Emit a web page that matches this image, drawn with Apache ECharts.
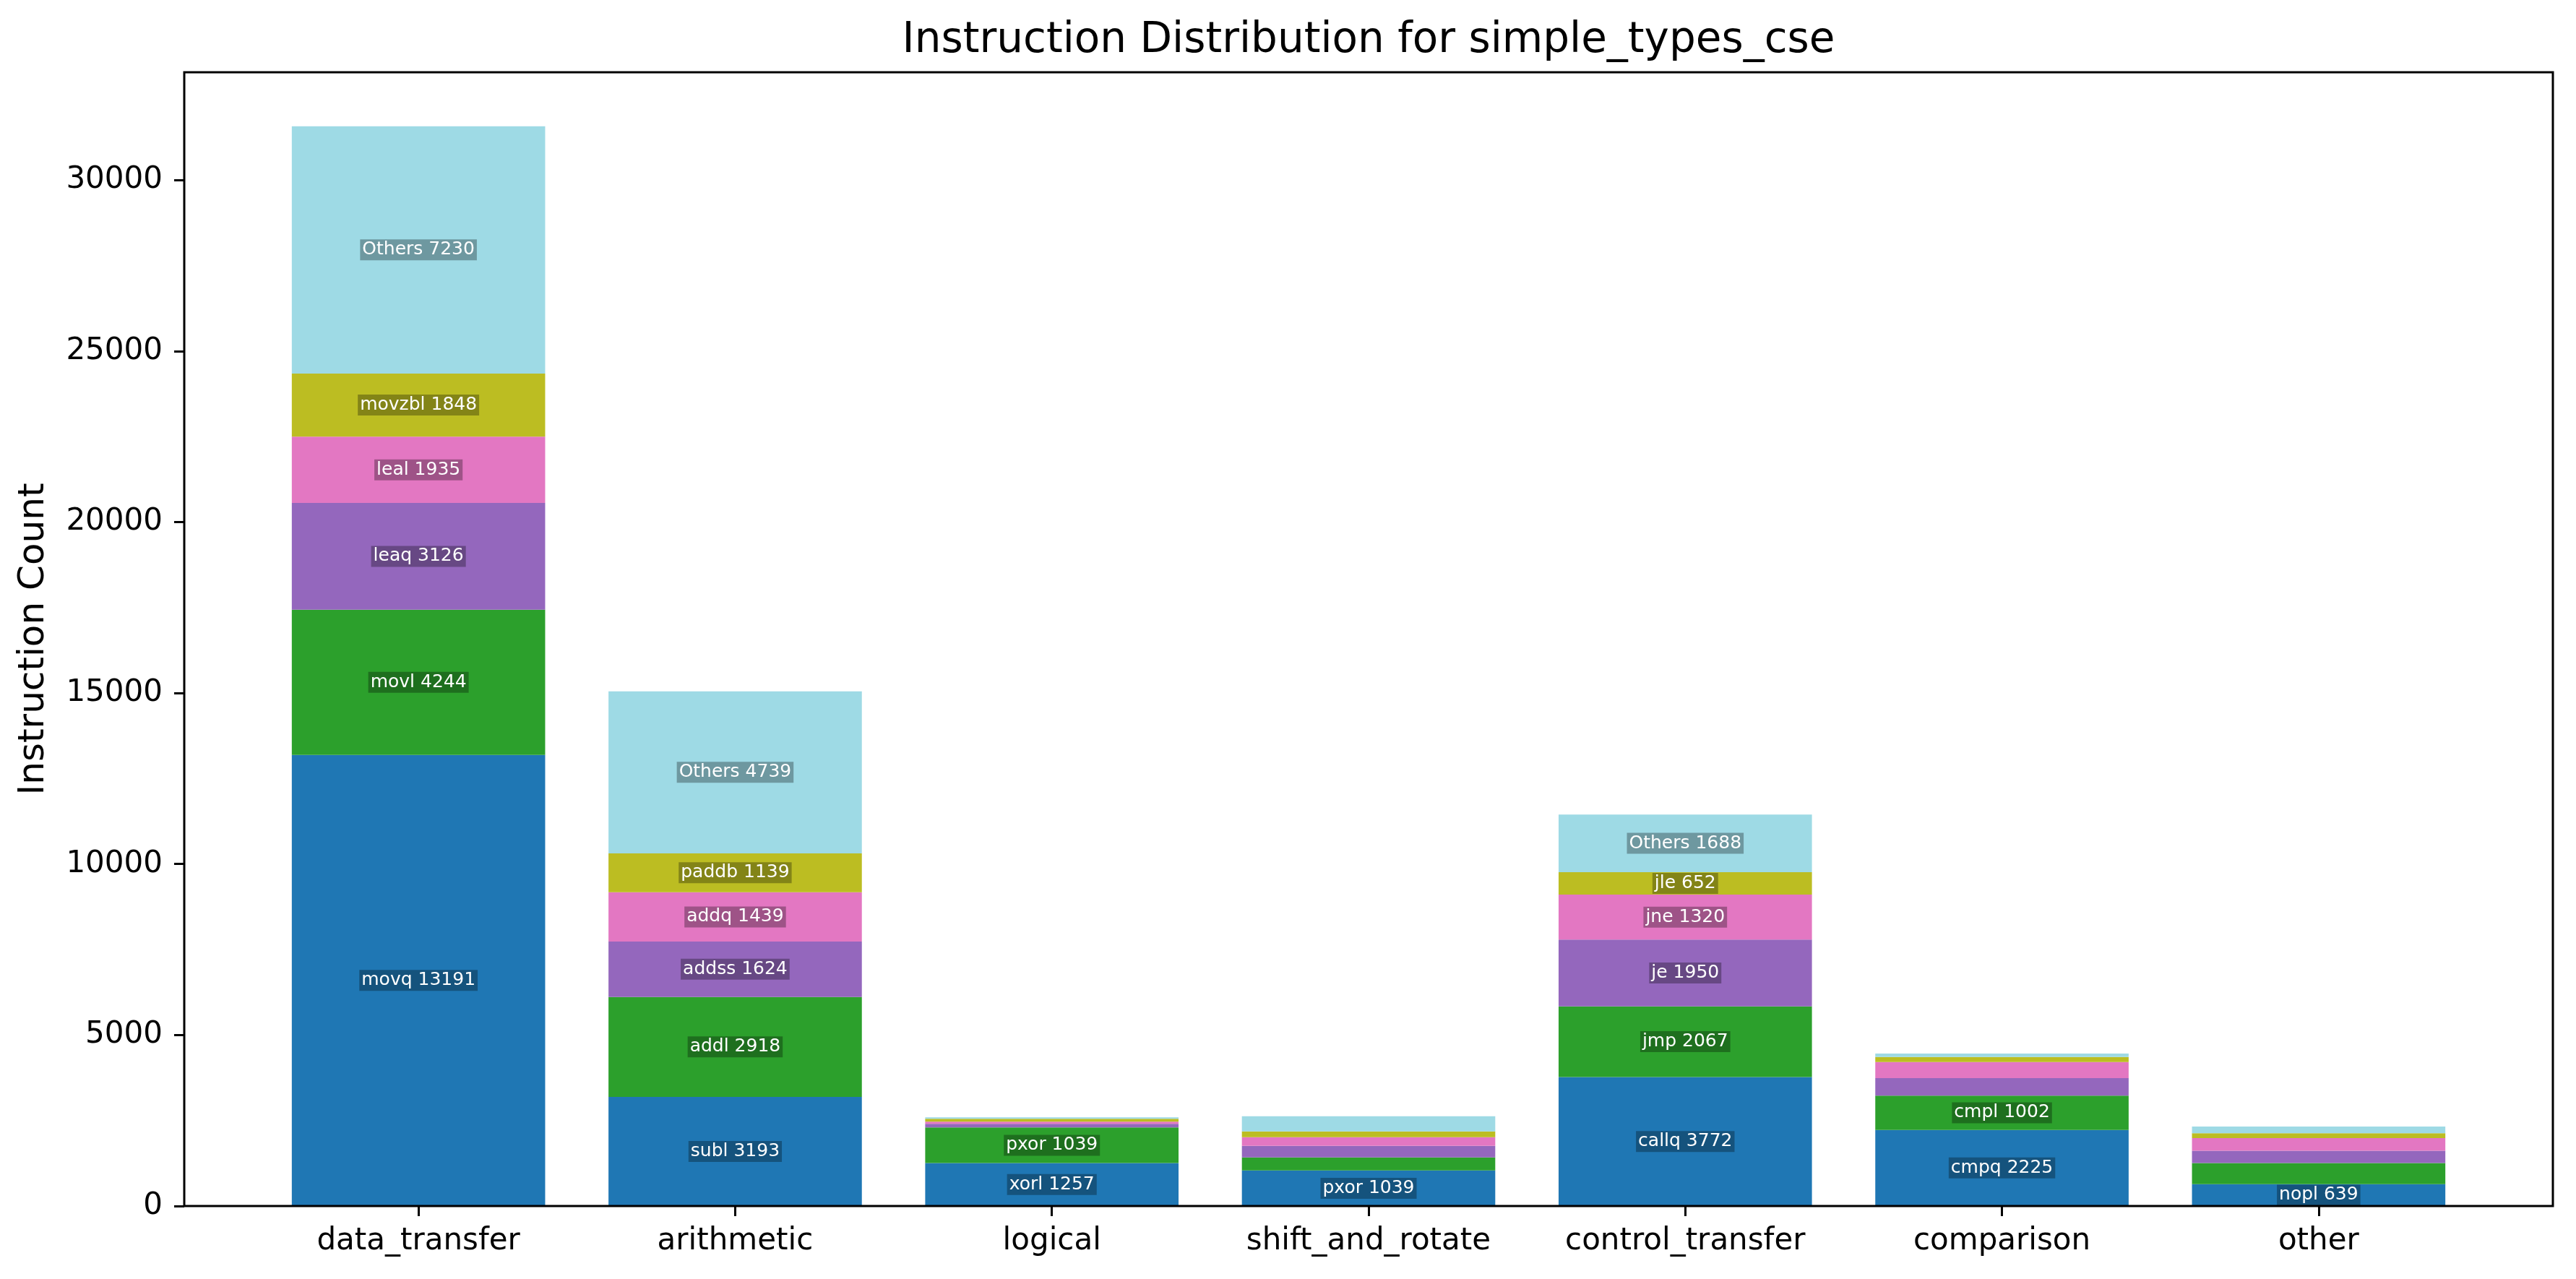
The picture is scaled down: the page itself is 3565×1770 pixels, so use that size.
<!DOCTYPE html>
<html>
<head>
<meta charset="utf-8">
<title>Instruction Distribution for simple_types_cse</title>
<script src="https://cdn.jsdelivr.net/npm/echarts@6/dist/echarts.min.js"></script>
<style>
    html, body { margin: 0; padding: 0; background: #fff; }
    #chart { width: 3565px; height: 1770px; }
</style>
</head>
<body>
<div id="chart"></div>
<script>
// categories
const categories = ['data_transfer', 'arithmetic', 'logical', 'shift_and_rotate', 'control_transfer', 'comparison', 'other'];

// top instructions per category, bottom to top
const rank1Names = ['movq', 'subl', 'xorl', 'pxor', 'callq', 'cmpq', 'nopl'];
const rank1Values = [13191, 3193, 1257, 1039, 3772, 2225, 639];
const rank2Names = ['movl', 'addl', 'pxor', '', 'jmp', 'cmpl', ''];
const rank2Values = [4244, 2918, 1039, 381, 2067, 1002, 620];
const rank3Names = ['leaq', 'addss', '', '', 'je', '', ''];
const rank3Values = [3126, 1624, 106, 338, 1950, 515, 357];
const rank4Names = ['leal', 'addq', '', '', 'jne', '', ''];
const rank4Values = [1935, 1439, 63, 254, 1320, 466, 371];
const rank5Names = ['movzbl', 'paddb', '', '', 'jle', '', ''];
const rank5Values = [1848, 1139, 85, 169, 652, 148, 143];
const othersNames = ['Others', 'Others', 'Others', 'Others', 'Others', 'Others', 'Others'];
const othersValues = [7230, 4739, 42, 444, 1688, 105, 193];

const yTicks = [0, 5000, 10000, 15000, 20000, 25000, 30000];

const layers = [
    { names: rank1Names, values: rank1Values, color: '#1f77b4' },
    { names: rank2Names, values: rank2Values, color: '#2ca02c' },
    { names: rank3Names, values: rank3Values, color: '#9467bd' },
    { names: rank4Names, values: rank4Values, color: '#e377c2' },
    { names: rank5Names, values: rank5Values, color: '#bcbd22' },
    { names: othersNames, values: othersValues, color: '#9edae5' }
];

// stack totals -> y max (matplotlib style 5% margin) and label threshold
const totals = categories.map((c, i) => layers.reduce((s, l) => s + l.values[i], 0));
const maxTotal = Math.max(...totals);
const yMax = maxTotal * 1.05;
const labelMin = maxTotal * 0.02;

const FONT = 'DejaVu Sans';

const series = layers.map((layer, r) => ({
    type: 'bar',
    stack: 'total',
    xAxisIndex: 0,
    yAxisIndex: 0,
    barWidth: '80%',
    itemStyle: { color: layer.color },
    label: {
        position: 'inside',
        color: '#fff',
        fontFamily: FONT,
        fontSize: 25,
        lineHeight: 25,
        backgroundColor: 'rgba(0,0,0,0.3)',
        padding: [2, 3],
        formatter: p => layer.names[p.dataIndex] + ' ' + p.value
    },
    data: layer.values.map((v, i) => ({
        value: v,
        label: { show: v >= labelMin && layer.names[i] !== '' }
    }))
}));

const chart = echarts.init(document.getElementById('chart'));
chart.setOption({
    animation: false,
    backgroundColor: '#fff',
    graphic: [{
        type: 'text',
        x: 1894,
        y: 57,
        style: {
            text: 'Instruction Distribution for simple_types_cse',
            font: '58px "DejaVu Sans"',
            fill: '#000',
            align: 'center',
            verticalAlign: 'middle'
        }
    }],
    grid: [
        // bars: x range -0.5 .. 6.5 inside matplotlib's padded x limits
        { left: 360, right: 137, top: 100, bottom: 101 },
        // frame + visible y axis
        { left: 255, right: 32, top: 100, bottom: 101, show: true, borderColor: '#000', borderWidth: 3, backgroundColor: 'transparent', z: 10 }
    ],
    xAxis: [
        {
            type: 'category',
            gridIndex: 0,
            data: categories,
            axisLine: { show: false },
            axisTick: { show: true, interval: 0, alignWithLabel: true, length: 14, lineStyle: { color: '#000', width: 3 } },
            axisLabel: { interval: 0, color: '#000', fontFamily: FONT, fontSize: 42, margin: 28 },
            splitLine: { show: false }
        },
        { type: 'value', gridIndex: 1, show: false, min: 0, max: 1 }
    ],
    yAxis: [
        { type: 'value', gridIndex: 0, show: false, min: 0, max: yMax },
        {
            type: 'value',
            gridIndex: 1,
            min: 0,
            max: yMax,
            interval: yTicks[1] - yTicks[0],
            name: 'Instruction Count',
            nameLocation: 'middle',
            nameGap: 183,
            nameTextStyle: { color: '#000', fontFamily: FONT, fontSize: 50 },
            axisLine: { show: false },
            axisTick: { show: true, length: 14, lineStyle: { color: '#000', width: 3 } },
            axisLabel: {
                color: '#000', fontFamily: FONT, fontSize: 42, margin: 30,
                showMaxLabel: false,
                formatter: v => (yTicks.includes(v) ? String(v) : '')
            },
            splitLine: { show: false }
        }
    ],
    series: series
});
</script>
</body>
</html>
